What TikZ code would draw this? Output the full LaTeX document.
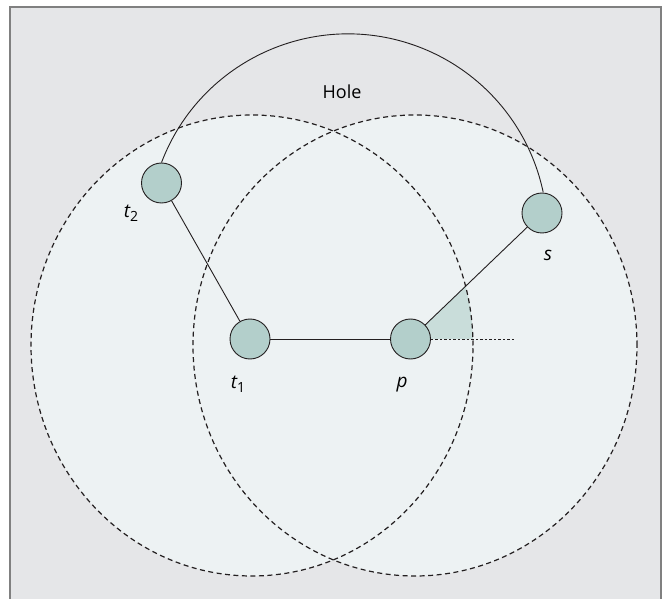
\documentclass[tikz,border=0pt]{standalone}
\usepackage{fontspec}
\setmainfont{Open Sans}
\usetikzlibrary{calc}
\definecolor{bgc}{HTML}{E5E6E8}
\definecolor{circfill}{HTML}{EDF2F3}
\definecolor{nodefill}{HTML}{B3CFCB}
\definecolor{wedgec}{HTML}{C9DDDA}
\definecolor{ink}{HTML}{231F20}
\definecolor{framec}{HTML}{808080}
\newcommand{\mysub}[1]{\raisebox{-0.35ex}{\fontsize{14}{16}\selectfont\upshape #1}}
\tikzset{
  sensor/.style={circle, draw=ink, line width=0.9pt, fill=nodefill, minimum size=40pt, inner sep=0pt},
  rangec/.style={draw=ink, line width=1.2pt, dash pattern=on 5pt off 3.5pt},
  link/.style={draw=ink, line width=0.9pt},
  lbl/.style={font=\fontsize{19}{22}\selectfont\itshape, inner sep=0pt},
}
\begin{document}
\begin{tikzpicture}[x=1pt,y=1pt]
\useasboundingbox (0,0) rectangle (667,598);
\fill[white] (0,0) rectangle (667,598);
\filldraw[fill=bgc, draw=framec, line width=2pt] (10,-5) -- (10,591) -- (661,591) -- (661,-5);
% coverage areas
\fill[circfill] (252,252.5) ellipse[x radius=221, y radius=230.5];
\fill[circfill] (415,252.5) ellipse[x radius=222, y radius=230.5];
% nodes positions
\coordinate (t2c) at (161.5,415);
\coordinate (t1c) at (250,259);
\coordinate (pc) at (410.5,259);
\coordinate (sc) at (542,385);
% wedge
\begin{scope}
\clip (252,252.5) ellipse[x radius=221, y radius=230.5];
\fill[wedgec] (pc) -- (pc -| sc) -- (sc) -- cycle;
\end{scope}
\draw[rangec] (252,252.5) ellipse[x radius=221, y radius=230.5];
\draw[rangec] (415,252.5) ellipse[x radius=222, y radius=230.5];
% sensors
\node[sensor] (t2) at (t2c) {};
\node[sensor] (t1) at (t1c) {};
\node[sensor] (p) at (pc) {};
\node[sensor] (s) at (sc) {};
\coordinate (dend) at (515,259);
\draw[ink, line width=0.9pt, dash pattern=on 2.5pt off 2pt] (p.east) -- (dend);
\draw[link] (t2) -- (t1);
\draw[link] (t1) -- (p);
\draw[link] (p) -- (s);
\draw[link] (t2.north) arc[start angle=159.2, end angle=11.9, radius=199.5pt];
% labels
\node[lbl] (t2l) at (131,385) {t\mysub{2}};
\node[lbl] (t1l) at (238,214) {t\mysub{1}};
\node[lbl] (pl) at (402,213) {p};
\node[lbl] (sl) at (548,343) {s};
\node[font=\fontsize{18}{21}\selectfont, inner sep=0pt] (hole) at (342,506) {Hole};
\end{tikzpicture}
\end{document}
